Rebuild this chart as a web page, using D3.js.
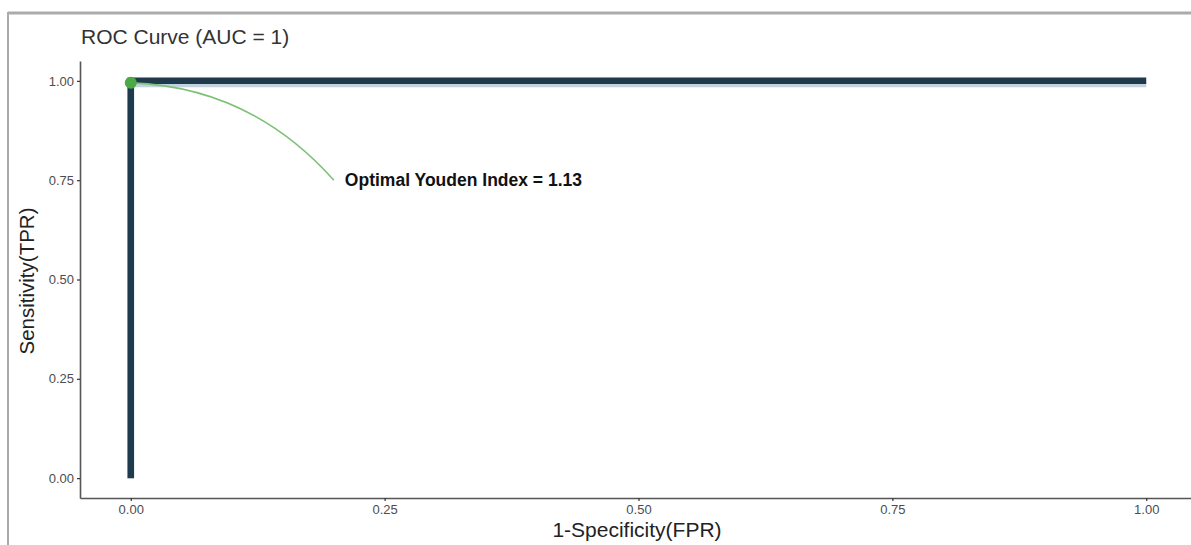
<!DOCTYPE html>
<html><head><meta charset="utf-8">
<script src="https://cdn.jsdelivr.net/npm/d3@7"></script>
<style>html,body{margin:0;padding:0;background:#fff;}svg{display:block;}</style>
</head><body>
<svg id="c" width="1191" height="545"></svg>
<script>
const fpr = [0, 0, 1];
const tpr = [0, 1, 1];
const fprSmooth = [0, 0, 1];
const tprSmooth = [0, 0.993, 0.993];
const xTicks = [0, 0.25, 0.5, 0.75, 1];
const yTicks = [0, 0.25, 0.5, 0.75, 1];
const optimal = {fpr: 0, tpr: 0.995};
const labelPos = {fpr: 0.2, tpr: 0.75};
const bend = {fpr: 0.118, tpr: 0.985};
const titleText = "ROC Curve (AUC = 1)";
const labelText = "Optimal Youden Index = 1.13";

const svg = d3.select("#c");
const font = "'Liberation Sans', Arial, Helvetica, sans-serif";
const x = d3.scaleLinear().domain([-0.05, 1.05]).range([80, 1197]);
const y = d3.scaleLinear().domain([-0.05, 1.05]).range([498, 61]);

// frame
svg.append("line").attr("x1", 8).attr("x2", 1191).attr("y1", 13).attr("y2", 13).attr("stroke", "#ababab").attr("stroke-width", 3);
svg.append("line").attr("x1", 8).attr("x2", 8).attr("y1", 12).attr("y2", 545).attr("stroke", "#ababab").attr("stroke-width", 2);

// axes
const gx = svg.append("g").attr("transform", `translate(0,${y(-0.05)})`)
  .call(d3.axisBottom(x).tickValues(xTicks).tickFormat(d3.format(".2f")).tickSize(3).tickSizeOuter(0).tickPadding(4));
const gy = svg.append("g").attr("transform", `translate(${x(-0.05)},0)`)
  .call(d3.axisLeft(y).tickValues(yTicks).tickFormat(d3.format(".2f")).tickSize(3).tickSizeOuter(0).tickPadding(3));
[gx, gy].forEach(g => {
  g.select(".domain").attr("stroke", "#555").attr("stroke-width", 1.6);
  g.selectAll(".tick line").attr("stroke", "#333").attr("stroke-width", 1.2);
  g.selectAll(".tick text").attr("fill", "#4d4d4d").style("font-family", font).style("font-size", "13px");
});

// ROC lines
const line = d3.line().x(d => x(d[0])).y(d => y(d[1]));
svg.append("path").datum(fprSmooth.map((v, i) => [v, tprSmooth[i]]))
  .attr("d", line).attr("fill", "none").attr("stroke", "#c3d2dc").attr("stroke-width", 7);
svg.append("path").datum(fpr.map((v, i) => [v, tpr[i]]))
  .attr("d", line).attr("fill", "none").attr("stroke", "#1f3a4c").attr("stroke-width", 6.5);

// curve to label
const p = d3.path();
p.moveTo(x(optimal.fpr), y(optimal.tpr));
p.quadraticCurveTo(x(bend.fpr), y(bend.tpr), x(labelPos.fpr), y(labelPos.tpr));
svg.append("path").attr("d", p.toString()).attr("fill", "none").attr("stroke", "#7dc177").attr("stroke-width", 1.6);

svg.append("circle").attr("cx", x(optimal.fpr)).attr("cy", y(optimal.tpr)).attr("r", 6).attr("fill", "#4caa45");

svg.append("text").attr("x", x(labelPos.fpr) + 11).attr("y", y(labelPos.tpr))
  .attr("dominant-baseline", "central").style("font-family", font).style("font-weight", "bold")
  .style("font-size", "17.5px").attr("fill", "#111").text(labelText);

// titles
svg.append("text").attr("x", 81).attr("y", 44).style("font-family", font).style("font-size", "21px")
  .attr("fill", "#333").text(titleText);
svg.append("text").attr("x", 637).attr("y", 537).attr("text-anchor", "middle").style("font-family", font)
  .style("font-size", "21px").attr("fill", "#222").text("1-Specificity(FPR)");
svg.append("text").attr("transform", "translate(34,281) rotate(-90)").attr("text-anchor", "middle")
  .style("font-family", font).style("font-size", "20.5px").attr("fill", "#222").text("Sensitivity(TPR)");
</script>
</body></html>
